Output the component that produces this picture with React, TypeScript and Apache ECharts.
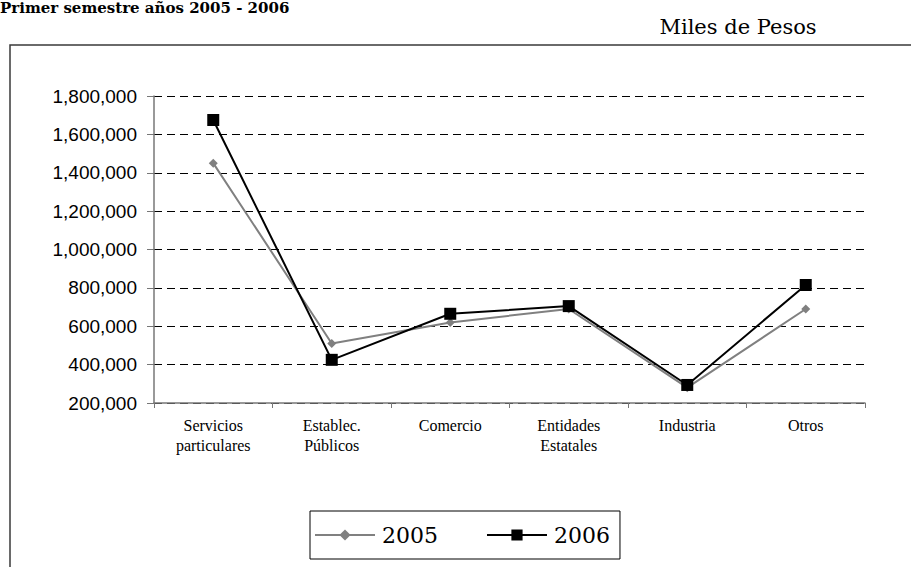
import React, { useEffect, useRef } from "react";
import * as echarts from "echarts";

const categories = [
  "Servicios\nparticulares",
  "Establec.\nPúblicos",
  "Comercio",
  "Entidades\nEstatales",
  "Industria",
  "Otros",
];
const values2005 = [1450000, 510000, 620000, 690000, 280000, 690000];
const values2006 = [1675000, 425000, 665000, 705000, 294000, 815000];
const seriesNames = ["2005", "2006"];
const titleText = "Primer semestre años 2005 - 2006";
const unitText = "Miles de Pesos";

export default function App() {
  const ref = useRef<HTMLDivElement>(null);
  useEffect(() => {
    if (!ref.current) return;
    const chart = echarts.init(ref.current, null, { renderer: "svg" });
    chart.setOption({
      animation: false,
      backgroundColor: "#ffffff",
      grid: { left: 154, right: 46, top: 96, bottom: 164 },
      graphic: [
        {
          type: "rect",
          shape: { x: 10, y: 45, width: 1000, height: 700 },
          style: { fill: "none", stroke: "#3a3a3a", lineWidth: 1.5 },
          z: -1,
        },
        {
          type: "text",
          x: 0,
          y: 0,
          style: {
            text: titleText,
            font: "bold 15px 'DejaVu Serif'",
            fill: "#000",
            textVerticalAlign: "top",
          },
        },
        {
          type: "text",
          x: 738,
          y: 27,
          style: {
            text: unitText,
            font: "21px 'DejaVu Serif'",
            fill: "#000",
            textAlign: "center",
            textVerticalAlign: "middle",
          },
        },
      ],
      legend: {
        left: 310,
        top: 511,
        width: 323,
        height: 52,
        padding: [13, 10, 13, 4],
        itemGap: 48,
        itemWidth: 60,
        itemHeight: 14,
        borderColor: "#000",
        borderWidth: 1,
        textStyle: { fontFamily: "DejaVu Serif", fontSize: 22, color: "#000", padding: [0, 0, 0, 2] },
        data: [seriesNames[0], seriesNames[1]],
      },
      xAxis: {
        type: "category",
        data: categories,
        boundaryGap: true,
        axisLine: { lineStyle: { color: "#777", width: 1.5 } },
        axisTick: { show: true, length: 5, lineStyle: { color: "#777" } },
        axisLabel: {
          color: "#000",
          fontFamily: "Liberation Serif",
          fontSize: 16,
          lineHeight: 20,
          margin: 12,
          interval: 0,
        },
      },
      yAxis: {
        type: "value",
        min: 200000,
        max: 1800000,
        interval: 200000,
        axisLine: { show: true, lineStyle: { color: "#777", width: 1.5 } },
        axisTick: { show: true, length: 7, lineStyle: { color: "#777" } },
        axisLabel: {
          color: "#000",
          fontFamily: "Liberation Sans",
          fontSize: 19,
          margin: 17,
          formatter: (v: number) => v.toLocaleString("en-US"),
        },
        splitLine: {
          show: true,
          lineStyle: { color: "#000", width: 1, type: [8, 5] },
        },
      },
      series: [
        {
          name: seriesNames[0],
          type: "line",
          data: values2005,
          symbol: "diamond",
          symbolSize: 9,
          color: "#808080",
          lineStyle: { color: "#808080", width: 2 },
          itemStyle: { color: "#808080" },
          z: 2,
        },
        {
          name: seriesNames[1],
          type: "line",
          data: values2006,
          symbol: "rect",
          symbolSize: 12,
          color: "#000",
          lineStyle: { color: "#000", width: 2 },
          itemStyle: { color: "#000" },
          z: 3,
        },
      ],
    });
    return () => chart.dispose();
  }, []);
  return <div ref={ref} style={{ width: 911, height: 567, position: "absolute", left: 0, top: 0 }} />;
}
